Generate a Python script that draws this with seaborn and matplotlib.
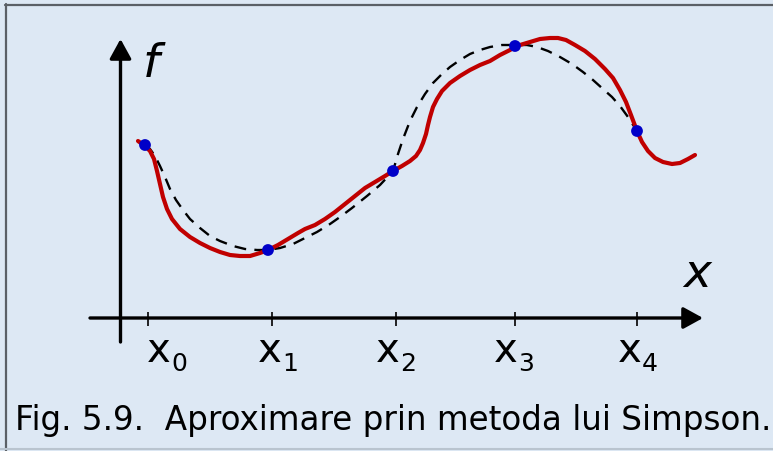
import numpy as np
import pandas as pd
import matplotlib
matplotlib.use("Agg")
import matplotlib.pyplot as plt
from matplotlib.lines import Line2D
import seaborn as sns

# curba reala f(x) (x in pixeli, f = inaltimea peste axa)
x_f = [138, 145, 150, 154, 157, 160, 163, 167, 172, 180, 190, 200, 210, 220, 230,
       240, 250, 260, 268, 278, 288, 298, 305, 315, 325, 335, 345, 355, 365, 375,
       385, 393, 402, 410, 416, 420, 423, 426, 428, 430, 433, 437, 442, 450, 460,
       470, 480, 490, 500, 510, 515, 520, 530, 540, 550, 558, 566, 575, 585, 595,
       605, 613, 620, 626, 631, 637, 642, 648, 655, 663, 672, 680, 688, 695]
y_f = [178, 173, 168, 160, 148, 135, 122, 110, 100, 90, 82, 76, 71, 67, 64,
       63, 63, 66, 69, 74, 80, 86, 90, 94, 100, 107, 115, 123, 131, 137,
       143, 148, 153, 158, 163, 169, 176, 185, 194, 202, 212, 220, 228, 236, 243,
       249, 254, 258, 264, 269, 272, 274, 277, 280, 281, 281, 279, 274, 268, 260,
       250, 241, 229, 217, 204, 188, 177, 168, 161, 157, 155, 156, 160, 164]

# parabolele Simpson (linia punctata)
x_p = [145, 150, 155, 160, 165, 170, 176, 183, 190, 200, 210, 220, 233, 245, 257,
       268, 280, 293, 305, 317, 330, 340, 352, 367, 380, 393,
       398, 403, 410, 417, 425, 433, 441, 450, 460, 470, 480, 490, 502, 515,
       527, 537, 548, 560, 572, 583, 593, 603, 612, 620, 628, 637]
y_p = [174, 170, 163, 153, 142, 130, 119, 109, 100, 91, 83, 78, 73, 70, 69,
       69, 71, 75, 81, 87, 95, 102, 111, 123, 134, 148,
       165, 180, 198, 212, 225, 236, 244, 252, 259, 265, 269, 272, 274, 274,
       274, 272, 268, 262, 255, 247, 239, 230, 222, 213, 202, 188]

# nodurile x0..x4
x_nod = [145, 268, 393, 515, 637]
y_nod = [174, 69, 148, 273, 188]
tick_x = [148, 272, 396, 515, 637]
etichete = ["0", "1", "2", "3", "4"]
caption = "Fig. 5.9.  Aproximare prin metoda lui Simpson."

bg = "#dde8f4"
sns.set_style("white")
plt.rcParams["font.family"] = ["DejaVu Sans"]
plt.rcParams["text.color"] = "black"

fig = plt.figure(figsize=(7.73, 4.52), dpi=100, facecolor=bg)
ax = fig.add_axes([0, 0, 1, 1])
ax.set_facecolor(bg)
ax.set_xlim(0, 773)
ax.set_ylim(-132, 320)
ax.set_axis_off()

df_f = pd.DataFrame({"x": x_f, "f": y_f})
df_p = pd.DataFrame({"x": x_p, "f": y_p})
df_n = pd.DataFrame({"x": x_nod, "f": y_nod})

sns.lineplot(data=df_p, x="x", y="f", ax=ax, color="black", lw=1.7,
             linestyle=(0, (5, 3.5)), estimator=None, errorbar=None, sort=False, zorder=3)
sns.lineplot(data=df_f, x="x", y="f", ax=ax, color="#c00000", lw=3.0,
             estimator=None, errorbar=None, sort=False, zorder=4,
             solid_capstyle="round", solid_joinstyle="round")
sns.scatterplot(data=df_n, x="x", y="f", ax=ax, color="#0000c8", s=72,
                edgecolor="none", zorder=5)

# axele cu sageti
ap = dict(arrowstyle="-|>,head_length=0.4,head_width=0.22", mutation_scale=30,
          lw=2.4, color="black", shrinkA=0, shrinkB=0)
ax.annotate("", xy=(703, 1), xytext=(90, 1), arrowprops=ap)
ax.annotate("", xy=(120.5, 280), xytext=(120.5, -23), arrowprops=ap)
ax.vlines(tick_x, -7, 7, color="black", lw=1.2)

ax.text(143, 243, "f", fontsize=34, style="italic", ha="left", va="baseline", color="black")
ax.text(683, 33, "x", fontsize=34, style="italic", ha="left", va="baseline", color="black")

lab_x = [147, 258, 376, 494, 618]
for lx, e in zip(lab_x, etichete):
    ax.text(lx, -42, "x", fontsize=29, ha="left", va="baseline", color="black")
    ax.text(lx + 24, -51, e, fontsize=18, ha="left", va="baseline", color="black")

ax.text(15, -110, caption, fontsize=23.5, ha="left", va="baseline", color="black")

# chenarul
W, H = 773, 452
fig.add_artist(Line2D([5 / W, 1], [1 - 6 / H, 1 - 6 / H], color="#5b6066", lw=1.6,
                      transform=fig.transFigure))
fig.add_artist(Line2D([6 / W, 6 / W], [0, 1 - 5 / H], color="#5b6066", lw=1.6,
                      transform=fig.transFigure))
fig.add_artist(Line2D([0, 1], [2 / H, 2 / H], color="#b9c4cf", lw=1.5,
                      transform=fig.transFigure))

fig.savefig("out.png", dpi=100, facecolor=bg)
